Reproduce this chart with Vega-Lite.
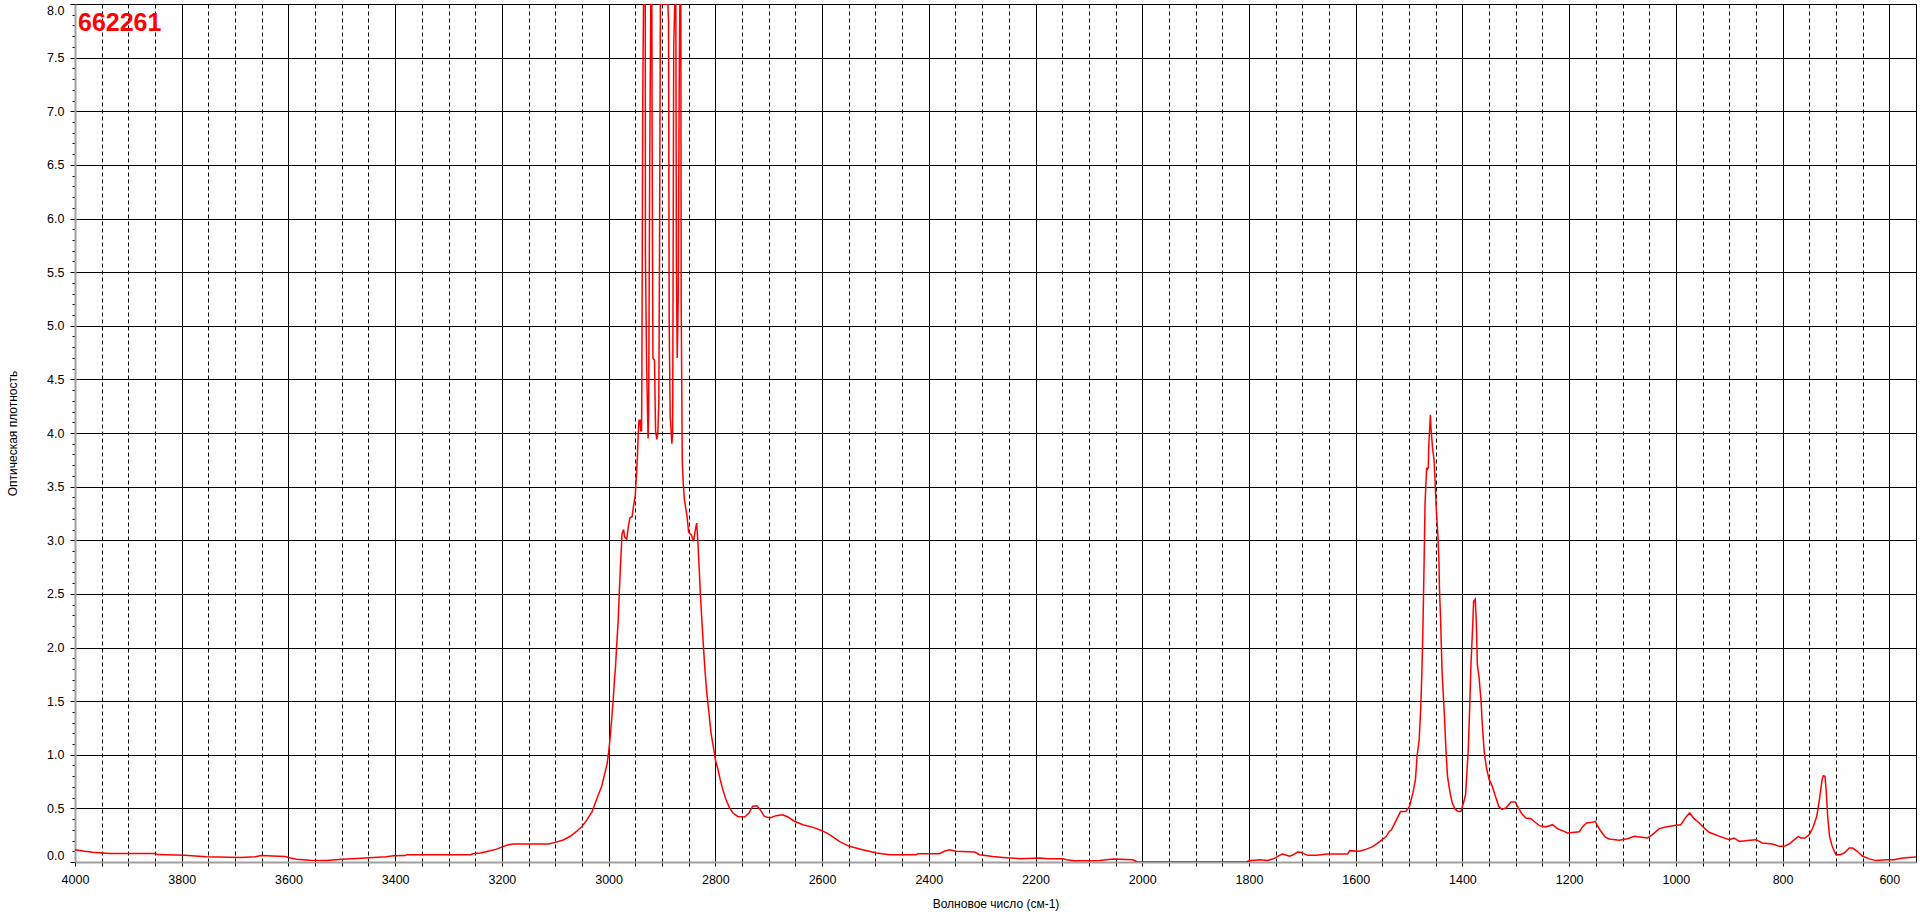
{
  "$schema": "https://vega.github.io/schema/vega-lite/v6.json",
  "width": 1841,
  "height": 858,
  "autosize": {"type": "none"},
  "padding": {"left": 75, "top": 4, "right": 4, "bottom": 55},
  "background": "white",
  "config": {
    "view": {"stroke": "#000000", "strokeWidth": 1, "fill": "#fdfefd"},
    "font": "Liberation Sans"
  },
  "title": {
    "text": "662261",
    "anchor": "start",
    "frame": "group",
    "orient": "top",
    "offset": -32,
    "dx": 3,
    "color": "#ff0000",
    "fontSize": 25,
    "fontWeight": "bold",
    "font": "Liberation Sans"
  },
  "data": {
    "values": [
      {"w": 4000, "a": 0.115}, {"w": 3982, "a": 0.10}, {"w": 3967, "a": 0.09}, {"w": 3935, "a": 0.08},
      {"w": 3850, "a": 0.08}, {"w": 3845, "a": 0.069}, {"w": 3795, "a": 0.062}, {"w": 3754, "a": 0.05},
      {"w": 3689, "a": 0.041}, {"w": 3662, "a": 0.05}, {"w": 3651, "a": 0.06}, {"w": 3630, "a": 0.056},
      {"w": 3606, "a": 0.052}, {"w": 3598, "a": 0.04}, {"w": 3585, "a": 0.025}, {"w": 3560, "a": 0.016},
      {"w": 3529, "a": 0.013}, {"w": 3498, "a": 0.025}, {"w": 3480, "a": 0.03}, {"w": 3448, "a": 0.04},
      {"w": 3417, "a": 0.05}, {"w": 3403, "a": 0.058}, {"w": 3381, "a": 0.06}, {"w": 3378, "a": 0.068},
      {"w": 3258, "a": 0.068}, {"w": 3255, "a": 0.077}, {"w": 3240, "a": 0.085}, {"w": 3222, "a": 0.105},
      {"w": 3210, "a": 0.12}, {"w": 3197, "a": 0.146}, {"w": 3188, "a": 0.16}, {"w": 3178, "a": 0.168},
      {"w": 3113, "a": 0.168}, {"w": 3100, "a": 0.183}, {"w": 3085, "a": 0.205}, {"w": 3072, "a": 0.24},
      {"w": 3060, "a": 0.285}, {"w": 3050, "a": 0.33}, {"w": 3041, "a": 0.39}, {"w": 3031, "a": 0.47},
      {"w": 3025, "a": 0.55}, {"w": 3019, "a": 0.63}, {"w": 3013, "a": 0.705}, {"w": 3008, "a": 0.81},
      {"w": 3003, "a": 0.91}, {"w": 3000, "a": 1.02}, {"w": 2997, "a": 1.17}, {"w": 2994, "a": 1.35},
      {"w": 2991, "a": 1.545}, {"w": 2989, "a": 1.70}, {"w": 2987, "a": 1.825}, {"w": 2985, "a": 2.01},
      {"w": 2982, "a": 2.26}, {"w": 2980, "a": 2.51}, {"w": 2978, "a": 2.74}, {"w": 2976, "a": 2.94},
      {"w": 2975, "a": 3.06}, {"w": 2972, "a": 3.10}, {"w": 2970, "a": 3.03}, {"w": 2966, "a": 3.01},
      {"w": 2963, "a": 3.13}, {"w": 2960, "a": 3.21}, {"w": 2956, "a": 3.22}, {"w": 2953, "a": 3.33},
      {"w": 2950, "a": 3.42}, {"w": 2948, "a": 3.60}, {"w": 2946, "a": 3.78}, {"w": 2944.5, "a": 4.0},
      {"w": 2943, "a": 4.12}, {"w": 2941, "a": 4.12}, {"w": 2940, "a": 4.02}, {"w": 2938.3, "a": 4.02},
      {"w": 2937.8, "a": 4.375}, {"w": 2936, "a": 7.14}, {"w": 2934.6, "a": 8.0}, {"w": 2931.4, "a": 8.0},
      {"w": 2931, "a": 5.665}, {"w": 2929, "a": 4.70}, {"w": 2927, "a": 4.17}, {"w": 2926, "a": 3.95},
      {"w": 2925, "a": 4.17}, {"w": 2923, "a": 6.49}, {"w": 2921, "a": 8.0}, {"w": 2919, "a": 8.0},
      {"w": 2918.3, "a": 6.49}, {"w": 2917, "a": 4.70}, {"w": 2914, "a": 4.68}, {"w": 2912, "a": 4.02},
      {"w": 2909.6, "a": 3.94}, {"w": 2907.8, "a": 4.0}, {"w": 2906, "a": 4.27}, {"w": 2904.6, "a": 5.665},
      {"w": 2903, "a": 8.0}, {"w": 2889, "a": 8.0}, {"w": 2887.7, "a": 7.84}, {"w": 2886.5, "a": 5.03},
      {"w": 2884.6, "a": 4.16}, {"w": 2881.5, "a": 3.90}, {"w": 2880, "a": 4.0}, {"w": 2878, "a": 7.61},
      {"w": 2876, "a": 8.0}, {"w": 2874, "a": 8.0}, {"w": 2873, "a": 5.56}, {"w": 2871.5, "a": 4.70},
      {"w": 2869.6, "a": 5.245}, {"w": 2867.7, "a": 7.28}, {"w": 2866.5, "a": 8.0}, {"w": 2864.7, "a": 8.0},
      {"w": 2864, "a": 5.21}, {"w": 2862, "a": 3.74}, {"w": 2860.2, "a": 3.535}, {"w": 2858, "a": 3.38},
      {"w": 2853, "a": 3.22}, {"w": 2850, "a": 3.075}, {"w": 2845, "a": 3.05}, {"w": 2841, "a": 2.99},
      {"w": 2838, "a": 3.08}, {"w": 2835, "a": 3.16}, {"w": 2833, "a": 3.01}, {"w": 2830, "a": 2.71},
      {"w": 2828, "a": 2.49}, {"w": 2825, "a": 2.23}, {"w": 2822, "a": 1.98}, {"w": 2819, "a": 1.76},
      {"w": 2816, "a": 1.575}, {"w": 2812, "a": 1.39}, {"w": 2808, "a": 1.20}, {"w": 2804, "a": 1.08},
      {"w": 2800, "a": 0.955}, {"w": 2795, "a": 0.86}, {"w": 2791, "a": 0.77}, {"w": 2786, "a": 0.675},
      {"w": 2780, "a": 0.58}, {"w": 2773, "a": 0.50}, {"w": 2767, "a": 0.457}, {"w": 2758, "a": 0.425},
      {"w": 2745, "a": 0.42}, {"w": 2737, "a": 0.457}, {"w": 2730, "a": 0.52}, {"w": 2722, "a": 0.525},
      {"w": 2716, "a": 0.488}, {"w": 2708, "a": 0.425}, {"w": 2698, "a": 0.41}, {"w": 2686, "a": 0.432},
      {"w": 2674, "a": 0.44}, {"w": 2664, "a": 0.42}, {"w": 2652, "a": 0.38}, {"w": 2636, "a": 0.348},
      {"w": 2617, "a": 0.323}, {"w": 2600, "a": 0.292}, {"w": 2586, "a": 0.255}, {"w": 2567, "a": 0.19},
      {"w": 2549, "a": 0.146}, {"w": 2524, "a": 0.115}, {"w": 2498, "a": 0.084}, {"w": 2474, "a": 0.068},
      {"w": 2424, "a": 0.068}, {"w": 2420, "a": 0.077}, {"w": 2380, "a": 0.077}, {"w": 2371, "a": 0.10},
      {"w": 2361, "a": 0.115}, {"w": 2349, "a": 0.10}, {"w": 2314, "a": 0.093}, {"w": 2305, "a": 0.068},
      {"w": 2280, "a": 0.052}, {"w": 2261, "a": 0.043}, {"w": 2227, "a": 0.03}, {"w": 2192, "a": 0.037},
      {"w": 2177, "a": 0.03}, {"w": 2149, "a": 0.03}, {"w": 2142, "a": 0.022}, {"w": 2127, "a": 0.012},
      {"w": 2080, "a": 0.013}, {"w": 2054, "a": 0.027}, {"w": 2018, "a": 0.02}, {"w": 2009, "a": 0.0},
      {"w": 1805, "a": 0.0}, {"w": 1800, "a": 0.012}, {"w": 1780, "a": 0.02}, {"w": 1765, "a": 0.015},
      {"w": 1752, "a": 0.034}, {"w": 1743, "a": 0.062}, {"w": 1737, "a": 0.075}, {"w": 1724, "a": 0.053},
      {"w": 1718, "a": 0.065}, {"w": 1709, "a": 0.093}, {"w": 1703, "a": 0.09}, {"w": 1690, "a": 0.062},
      {"w": 1674, "a": 0.062}, {"w": 1653, "a": 0.075}, {"w": 1615, "a": 0.075}, {"w": 1611, "a": 0.106},
      {"w": 1593, "a": 0.10}, {"w": 1580, "a": 0.12}, {"w": 1568, "a": 0.143}, {"w": 1555, "a": 0.19},
      {"w": 1543, "a": 0.237}, {"w": 1537, "a": 0.285}, {"w": 1533, "a": 0.30}, {"w": 1524, "a": 0.39},
      {"w": 1516, "a": 0.47}, {"w": 1506, "a": 0.47}, {"w": 1499, "a": 0.52}, {"w": 1493, "a": 0.64},
      {"w": 1488, "a": 0.77}, {"w": 1485, "a": 0.985}, {"w": 1481, "a": 1.14}, {"w": 1478, "a": 1.45},
      {"w": 1476, "a": 1.76}, {"w": 1474, "a": 2.18}, {"w": 1472, "a": 2.74}, {"w": 1470, "a": 3.35},
      {"w": 1467, "a": 3.675}, {"w": 1466, "a": 3.66}, {"w": 1464, "a": 3.675}, {"w": 1463, "a": 3.89},
      {"w": 1460, "a": 4.17}, {"w": 1459, "a": 4.05}, {"w": 1456, "a": 3.86}, {"w": 1453, "a": 3.74},
      {"w": 1451, "a": 3.52}, {"w": 1449, "a": 3.29}, {"w": 1446, "a": 3.05}, {"w": 1444, "a": 2.80},
      {"w": 1443, "a": 2.54}, {"w": 1441, "a": 2.275}, {"w": 1438, "a": 1.76}, {"w": 1434, "a": 1.39},
      {"w": 1431, "a": 1.06}, {"w": 1428, "a": 0.80}, {"w": 1423, "a": 0.64}, {"w": 1419, "a": 0.55},
      {"w": 1414, "a": 0.495}, {"w": 1408, "a": 0.47}, {"w": 1403, "a": 0.47}, {"w": 1398, "a": 0.55},
      {"w": 1394, "a": 0.63}, {"w": 1392, "a": 0.80}, {"w": 1389, "a": 1.05}, {"w": 1386, "a": 1.50},
      {"w": 1384, "a": 1.84}, {"w": 1381, "a": 2.17}, {"w": 1379, "a": 2.43}, {"w": 1376, "a": 2.45},
      {"w": 1374, "a": 2.245}, {"w": 1372, "a": 1.84}, {"w": 1369, "a": 1.73}, {"w": 1365, "a": 1.50},
      {"w": 1363, "a": 1.30}, {"w": 1359, "a": 1.02}, {"w": 1355, "a": 0.88}, {"w": 1350, "a": 0.77},
      {"w": 1344, "a": 0.705}, {"w": 1338, "a": 0.61}, {"w": 1332, "a": 0.52}, {"w": 1326, "a": 0.49},
      {"w": 1318.6, "a": 0.503}, {"w": 1309, "a": 0.56}, {"w": 1301, "a": 0.56}, {"w": 1295, "a": 0.503},
      {"w": 1288.6, "a": 0.45}, {"w": 1281, "a": 0.41}, {"w": 1271.7, "a": 0.404}, {"w": 1262, "a": 0.364},
      {"w": 1256, "a": 0.339}, {"w": 1243.6, "a": 0.327}, {"w": 1231, "a": 0.348}, {"w": 1222, "a": 0.311},
      {"w": 1212.5, "a": 0.292}, {"w": 1203, "a": 0.27}, {"w": 1181, "a": 0.282}, {"w": 1175, "a": 0.327},
      {"w": 1167.5, "a": 0.364}, {"w": 1156, "a": 0.37}, {"w": 1151, "a": 0.379}, {"w": 1147, "a": 0.339},
      {"w": 1140.6, "a": 0.286}, {"w": 1132.5, "a": 0.233}, {"w": 1125, "a": 0.215}, {"w": 1106, "a": 0.202},
      {"w": 1090.7, "a": 0.217}, {"w": 1078, "a": 0.24}, {"w": 1053, "a": 0.224}, {"w": 1044, "a": 0.255},
      {"w": 1031, "a": 0.311}, {"w": 1019, "a": 0.327}, {"w": 1000, "a": 0.342}, {"w": 990.6, "a": 0.348},
      {"w": 981, "a": 0.42}, {"w": 974, "a": 0.457}, {"w": 966, "a": 0.404}, {"w": 956, "a": 0.364},
      {"w": 947, "a": 0.317}, {"w": 937.6, "a": 0.277}, {"w": 918, "a": 0.239}, {"w": 900, "a": 0.208},
      {"w": 891, "a": 0.224}, {"w": 881, "a": 0.192}, {"w": 866, "a": 0.20}, {"w": 850, "a": 0.208},
      {"w": 838, "a": 0.177}, {"w": 819, "a": 0.168}, {"w": 806, "a": 0.146}, {"w": 797, "a": 0.146},
      {"w": 787, "a": 0.17}, {"w": 778, "a": 0.208}, {"w": 770, "a": 0.239}, {"w": 766, "a": 0.224},
      {"w": 758, "a": 0.224}, {"w": 750, "a": 0.255}, {"w": 743.5, "a": 0.317}, {"w": 736, "a": 0.426},
      {"w": 731, "a": 0.581}, {"w": 726, "a": 0.768}, {"w": 723.6, "a": 0.805}, {"w": 720.5, "a": 0.80},
      {"w": 718, "a": 0.643}, {"w": 715.5, "a": 0.426}, {"w": 712, "a": 0.239}, {"w": 707, "a": 0.146},
      {"w": 700, "a": 0.068}, {"w": 692.5, "a": 0.068}, {"w": 684.5, "a": 0.084}, {"w": 675, "a": 0.13},
      {"w": 669, "a": 0.13}, {"w": 660, "a": 0.10}, {"w": 650, "a": 0.053}, {"w": 637.6, "a": 0.029},
      {"w": 625, "a": 0.013}, {"w": 606, "a": 0.022}, {"w": 591, "a": 0.022}, {"w": 575, "a": 0.037},
      {"w": 550, "a": 0.047}
    ]
  },
  "mark": {"type": "line", "color": "#ff0000", "strokeWidth": 1.5, "clip": true},
  "encoding": {
    "x": {
      "field": "w",
      "type": "quantitative",
      "scale": {"domain": [550, 4000], "reverse": true, "nice": false, "zero": false},
      "axis": {
        "title": "Волновое число (см-1)",
        "titleFont": "Liberation Sans",
        "titleFontSize": 12,
        "titleFontWeight": "normal",
        "titleColor": "#000000",
        "titleY": 41,
        "titleBaseline": "middle",
        "values": [600, 650, 700, 750, 800, 850, 900, 950, 1000, 1050, 1100, 1150, 1200, 1250, 1300, 1350, 1400, 1450, 1500, 1550, 1600, 1650, 1700, 1750, 1800, 1850, 1900, 1950, 2000, 2050, 2100, 2150, 2200, 2250, 2300, 2350, 2400, 2450, 2500, 2550, 2600, 2650, 2700, 2750, 2800, 2850, 2900, 2950, 3000, 3050, 3100, 3150, 3200, 3250, 3300, 3350, 3400, 3450, 3500, 3550, 3600, 3650, 3700, 3750, 3800, 3850, 3900, 3950, 4000],
        "labelExpr": "datum.value % 200 === 0 ? format(datum.value, 'd') : ''",
        "labelOverlap": false,
        "labelFlush": false,
        "labelFont": "Liberation Sans",
        "labelFontSize": 12.5,
        "labelColor": "#000000",
        "labelPadding": 7,
        "tickSize": 4,
        "tickColor": "#000000",
        "domainColor": "#a0a0a0",
        "domainWidth": 2,
        "grid": true,
        "gridColor": "#000000",
        "gridWidth": 1,
        "gridOpacity": 1,
        "gridDash": {"condition": {"test": "datum.value % 200 === 0", "value": []}, "value": [4, 3]}
      }
    },
    "y": {
      "field": "a",
      "type": "quantitative",
      "scale": {"domain": [0, 8], "nice": false, "zero": false},
      "axis": {
        "title": "Оптическая плотность",
        "titleFont": "Liberation Sans",
        "titleFontSize": 12,
        "titleFontWeight": "normal",
        "titleColor": "#000000",
        "titleX": -63,
        "titleBaseline": "middle",
        "values": [0, 0.1, 0.2, 0.3, 0.4, 0.5, 0.6, 0.7, 0.8, 0.9, 1.0, 1.1, 1.2, 1.3, 1.4, 1.5, 1.6, 1.7, 1.8, 1.9, 2.0, 2.1, 2.2, 2.3, 2.4, 2.5, 2.6, 2.7, 2.8, 2.9, 3.0, 3.1, 3.2, 3.3, 3.4, 3.5, 3.6, 3.7, 3.8, 3.9, 4.0, 4.1, 4.2, 4.3, 4.4, 4.5, 4.6, 4.7, 4.8, 4.9, 5.0, 5.1, 5.2, 5.3, 5.4, 5.5, 5.6, 5.7, 5.8, 5.9, 6.0, 6.1, 6.2, 6.3, 6.4, 6.5, 6.6, 6.7, 6.8, 6.9, 7.0, 7.1, 7.2, 7.3, 7.4, 7.5, 7.6, 7.7, 7.8, 7.9, 8.0],
        "labelExpr": "abs(datum.value * 2 - round(datum.value * 2)) < 0.001 ? format(datum.value, '.1f') : ''",
        "labelOverlap": false,
        "labelFlush": true,
        "labelFont": "Liberation Sans",
        "labelFontSize": 12.5,
        "labelColor": "#000000",
        "labelPadding": 6,
        "tickSize": {"condition": {"test": "abs(datum.value * 2 - round(datum.value * 2)) < 0.001", "value": 5}, "value": 3},
        "tickColor": "#000000",
        "domainColor": "#a0a0a0",
        "domainWidth": 2,
        "grid": true,
        "gridColor": "#000000",
        "gridWidth": 1,
        "gridOpacity": {"condition": {"test": "abs(datum.value * 2 - round(datum.value * 2)) < 0.001", "value": 1}, "value": 0}
      }
    }
  }
}
